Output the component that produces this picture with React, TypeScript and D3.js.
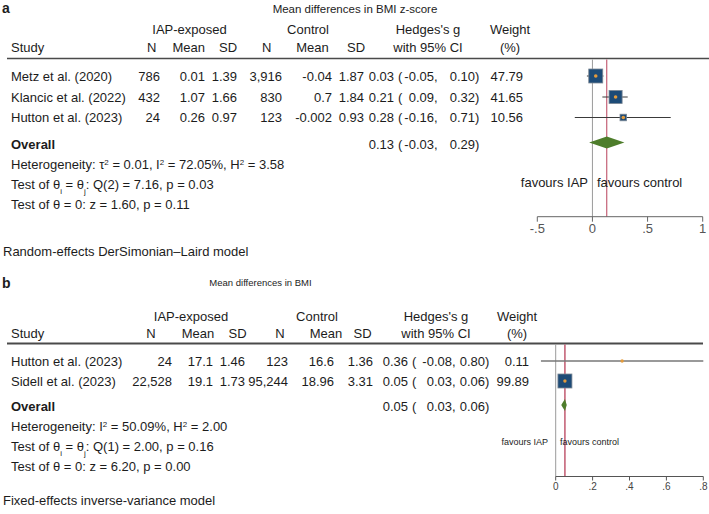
import React from "react";
import * as d3 from "d3";

// panel a: BMI z-score, random effects
const studiesA = ["Metz et al. (2020)", "Klancic et al. (2022)", "Hutton et al. (2023)"];
const iapNA = ["786", "432", "24"];
const iapMeanA = ["0.01", "1.07", "0.26"];
const iapSdA = ["1.39", "1.66", "0.97"];
const ctlNA = ["3,916", "830", "123"];
const ctlMeanA = ["-0.04", "0.7", "-0.002"];
const ctlSdA = ["1.87", "1.84", "0.93"];
const gA = [0.03, 0.21, 0.28];
const loA = [-0.05, 0.09, -0.16];
const hiA = [0.1, 0.32, 0.71];
const weightA = [47.79, 41.65, 10.56];
const overallA = [0.13, -0.03, 0.29];
const ticksA = [-0.5, 0, 0.5, 1];
const tickLabelsA = ["-.5", "0", ".5", "1"];

// panel b: BMI, fixed effects
const studiesB = ["Hutton et al. (2023)", "Sidell et al. (2023)"];
const iapNB = ["24", "22,528"];
const iapMeanB = ["17.1", "19.1"];
const iapSdB = ["1.46", "1.73"];
const ctlNB = ["123", "95,244"];
const ctlMeanB = ["16.6", "18.96"];
const ctlSdB = ["1.36", "3.31"];
const gB = [0.36, 0.05];
const loB = [-0.08, 0.03];
const hiB = [0.8, 0.06];
const weightB = [0.11, 99.89];
const overallB = [0.05, 0.03, 0.06];
const ticksB = [0, 0.2, 0.4, 0.6, 0.8];
const tickLabelsB = ["0", ".2", ".4", ".6", ".8"];

// d3 formats negatives with U+2212, Stata prints a plain hyphen
const fmt = d3.format(".2f");
const f2 = (v: number) => fmt(v).replace("\u2212", "-");

const FONT = "'Liberation Sans', Arial, Helvetica, sans-serif";
const INK = "#1c1c1c";
const NAVY = "#1d4b77";
const ORANGE = "#e39b3c";
const GREEN = "#4e7d2b";
const RED = "#b8405a";

const T = (props: any) => (
  <text dy="0.35em" fill={INK} fontSize={13} {...props} />
);

function CiText({ y, g, lo, hi, xs }: any) {
  // xs: [estimate end, "(" start, lo end, hi end]
  return (
    <g>
      <T x={xs[0]} y={y} textAnchor="end">{f2(g)}</T>
      <T x={xs[1]} y={y}>(</T>
      <T x={xs[2]} y={y} textAnchor="end">{f2(lo)}</T>
      <T x={xs[2]} y={y}>,</T>
      <T x={xs[3]} y={y} textAnchor="end">{f2(hi)}</T>
      <T x={xs[3]} y={y}>)</T>
    </g>
  );
}

function Sub({ children }: any) {
  return <tspan baselineShift="sub" fontSize={8}>{children}</tspan>;
}
function Sup({ children }: any) {
  return <tspan baselineShift="super" fontSize={8}>{children}</tspan>;
}

function PanelA() {
  const x = d3.scaleLinear().domain([-0.5, 1]).range([537.3, 702.7]);
  const size = d3.scaleSqrt().domain([0, 47.79]).range([0, 14]);
  const rowY = [76, 97, 117.5];
  const overallY = 142.5;
  const lineTop = 58.5;
  const axisY = 216.7;
  const cols = [160, 205, 237, 282, 332, 364];
  const ciX = [394, 398, 434, 475];
  return (
    <g>
      <text x={2} y={8} dy="0.35em" fontSize={14} fontWeight="bold" fill={INK}>a</text>
      <T x={355} y={9} fontSize={11.5} textAnchor="middle">Mean differences in BMI z-score</T>
      <T x={189.5} y={29.5} textAnchor="middle">IAP-exposed</T>
      <T x={308} y={29.5} textAnchor="middle">Control</T>
      <T x={428} y={29.5} textAnchor="middle">Hedges's g</T>
      <T x={510} y={29.5} textAnchor="middle">Weight</T>
      <T x={11} y={47.5}>Study</T>
      {[["N", 151.7], ["Mean", 188.7], ["SD", 228], ["N", 266.7], ["Mean", 312.5], ["SD", 356]].map(([t, cx], i) => (
        <T key={i} x={cx} y={47.5} textAnchor="middle">{t}</T>
      ))}
      <T x={428} y={47.5} textAnchor="middle">with 95% CI</T>
      <T x={510} y={47.5} textAnchor="middle">(%)</T>
      <line x1={7} x2={709} y1={lineTop} y2={lineTop} stroke="#4a4a4a" strokeWidth={1.6} />

      {studiesA.map((s, i) => {
        const vals = [iapNA[i], iapMeanA[i], iapSdA[i], ctlNA[i], ctlMeanA[i], ctlSdA[i]];
        return (
          <g key={s}>
            <T x={11} y={rowY[i]}>{s}</T>
            {vals.map((v, j) => (
              <T key={j} x={cols[j]} y={rowY[i]} textAnchor="end">{v}</T>
            ))}
            <CiText y={rowY[i]} g={gA[i]} lo={loA[i]} hi={hiA[i]} xs={ciX} />
            <T x={523} y={rowY[i]} textAnchor="end">{f2(weightA[i])}</T>
          </g>
        );
      })}
      <T x={11} y={144} fontWeight="bold">Overall</T>
      <CiText y={144} g={overallA[0]} lo={overallA[1]} hi={overallA[2]} xs={ciX} />

      <T x={11} y={164}>
        Heterogeneity: τ<Sup>2</Sup> = 0.01, I<Sup>2</Sup> = 72.05%, H<Sup>2</Sup> = 3.58
      </T>
      <T x={11} y={184}>
        Test of θ<Sub>i</Sub> = θ<Sub>j</Sub>: Q(2) = 7.16, p = 0.03
      </T>
      <T x={11} y={204}>Test of θ = 0: z = 1.60, p = 0.11</T>
      <T x={3} y={251}>Random-effects DerSimonian–Laird model</T>

      {/* forest plot */}
      <line x1={x(0)} x2={x(0)} y1={lineTop + 1} y2={axisY} stroke="#9a9a9a" />
      <line x1={x(overallA[0])} x2={x(overallA[0])} y1={lineTop + 1} y2={axisY} stroke={RED} />
      {studiesA.map((s, i) => {
        const sd = size(weightA[i]);
        return (
          <g key={s}>
            <line x1={x(loA[i])} x2={x(hiA[i])} y1={rowY[i]} y2={rowY[i]} stroke="#3a3a3a" strokeWidth={1} />
            <rect x={x(gA[i]) - sd / 2} y={rowY[i] - sd / 2} width={sd} height={sd} fill={NAVY} stroke="#7d8894" strokeWidth={0.8} />
            <circle cx={x(gA[i])} cy={rowY[i]} r={1.8} fill={ORANGE} />
          </g>
        );
      })}
      <path
        d={`M${x(overallA[1])},${overallY} L${x(overallA[0])},${overallY - 6} L${x(overallA[2])},${overallY} L${x(overallA[0])},${overallY + 6} Z`}
        fill={GREEN}
      />
      <T x={588} y={182} textAnchor="end">favours IAP</T>
      <T x={597} y={182}>favours control</T>

      <line x1={x(-0.5)} x2={x(1)} y1={axisY} y2={axisY} stroke="#666" />
      {ticksA.map((t, i) => (
        <g key={t}>
          <line x1={x(t)} x2={x(t)} y1={axisY} y2={axisY + 5} stroke="#666" />
          <T x={x(t)} y={228.5} textAnchor="middle" fill="#555">{tickLabelsA[i]}</T>
        </g>
      ))}
    </g>
  );
}

function PanelB() {
  const x = d3.scaleLinear().domain([0, 0.8]).range([555.7, 703.3]);
  const size = d3.scaleSqrt().domain([0, 99.89]).range([0, 14]);
  const rowY = [361, 381];
  const overallY = 405;
  const lineTop = 343.5;
  const axisY = 476.5;
  const cols = [172, 213, 245, 288, 334, 373];
  const ciX = [408, 412, 452, 485];
  return (
    <g>
      <text x={2} y={283} dy="0.35em" fontSize={14} fontWeight="bold" fill={INK}>b</text>
      <T x={260.5} y={283} fontSize={9.5} textAnchor="middle">Mean differences in BMI</T>
      <T x={191} y={316} textAnchor="middle">IAP-exposed</T>
      <T x={317} y={316} textAnchor="middle">Control</T>
      <T x={436} y={316} textAnchor="middle">Hedges's g</T>
      <T x={517} y={316} textAnchor="middle">Weight</T>
      <T x={11} y={333}>Study</T>
      {[["N", 151], ["Mean", 198], ["SD", 237.5], ["N", 280], ["Mean", 326], ["SD", 362.5]].map(([t, cx], i) => (
        <T key={i} x={cx} y={333} textAnchor="middle">{t}</T>
      ))}
      <T x={436} y={333} textAnchor="middle">with 95% CI</T>
      <T x={517} y={333} textAnchor="middle">(%)</T>
      <line x1={7} x2={703} y1={lineTop} y2={lineTop} stroke="#4a4a4a" strokeWidth={1.8} />

      {studiesB.map((s, i) => {
        const vals = [iapNB[i], iapMeanB[i], iapSdB[i], ctlNB[i], ctlMeanB[i], ctlSdB[i]];
        return (
          <g key={s}>
            <T x={11} y={rowY[i]}>{s}</T>
            {vals.map((v, j) => (
              <T key={j} x={cols[j]} y={rowY[i]} textAnchor="end">{v}</T>
            ))}
            <CiText y={rowY[i]} g={gB[i]} lo={loB[i]} hi={hiB[i]} xs={ciX} />
            <T x={529} y={rowY[i]} textAnchor="end">{f2(weightB[i])}</T>
          </g>
        );
      })}
      <T x={11} y={406} fontWeight="bold">Overall</T>
      <CiText y={406} g={overallB[0]} lo={overallB[1]} hi={overallB[2]} xs={ciX} />

      <T x={11} y={426}>
        Heterogeneity: I<Sup>2</Sup> = 50.09%, H<Sup>2</Sup> = 2.00
      </T>
      <T x={11} y={446}>
        Test of θ<Sub>i</Sub> = θ<Sub>j</Sub>: Q(1) = 2.00, p = 0.16
      </T>
      <T x={11} y={466}>Test of θ = 0: z = 6.20, p = 0.00</T>
      <T x={3} y={500}>Fixed-effects inverse-variance model</T>

      {/* forest plot */}
      <line x1={x(0)} x2={x(0)} y1={lineTop + 1} y2={axisY} stroke="#9a9a9a" />
      <line x1={x(overallB[0])} x2={x(overallB[0])} y1={lineTop + 1} y2={axisY} stroke={RED} strokeWidth={1.3} />
      {studiesB.map((s, i) => {
        const sd = size(weightB[i]);
        return (
          <g key={s}>
            <line x1={x(loB[i])} x2={x(hiB[i])} y1={rowY[i]} y2={rowY[i]} stroke="#777" strokeWidth={1.6} />
            <rect x={x(gB[i]) - sd / 2} y={rowY[i] - sd / 2} width={sd} height={sd} fill={NAVY} stroke="#7d8894" strokeWidth={sd > 2 ? 0.8 : 0} />
            <circle cx={x(gB[i])} cy={rowY[i]} r={1.7} fill={ORANGE} />
          </g>
        );
      })}
      <path
        d={`M${x(overallB[1])},${overallY} L${x(overallB[0])},${overallY - 6} L${x(overallB[2])},${overallY} L${x(overallB[0])},${overallY + 6} Z`}
        fill={GREEN}
      />
      <T x={548} y={442} fontSize={9} textAnchor="end">favours IAP</T>
      <T x={560} y={442} fontSize={9}>favours control</T>

      <line x1={x(0)} x2={x(0.8)} y1={axisY} y2={axisY} stroke="#555" />
      {ticksB.map((t, i) => (
        <g key={t}>
          <line x1={x(t)} x2={x(t)} y1={axisY} y2={axisY + 4} stroke="#555" />
          <T x={x(t)} y={486} fontSize={10} textAnchor="middle" fill="#444">{tickLabelsB[i]}</T>
        </g>
      ))}
    </g>
  );
}

export default function App() {
  return (
    <svg
      width={709}
      height={514}
      style={{ position: "absolute", left: 0, top: 0, background: "#fff" }}
      fontFamily={FONT}
    >
      <PanelA />
      <PanelB />
    </svg>
  );
}
